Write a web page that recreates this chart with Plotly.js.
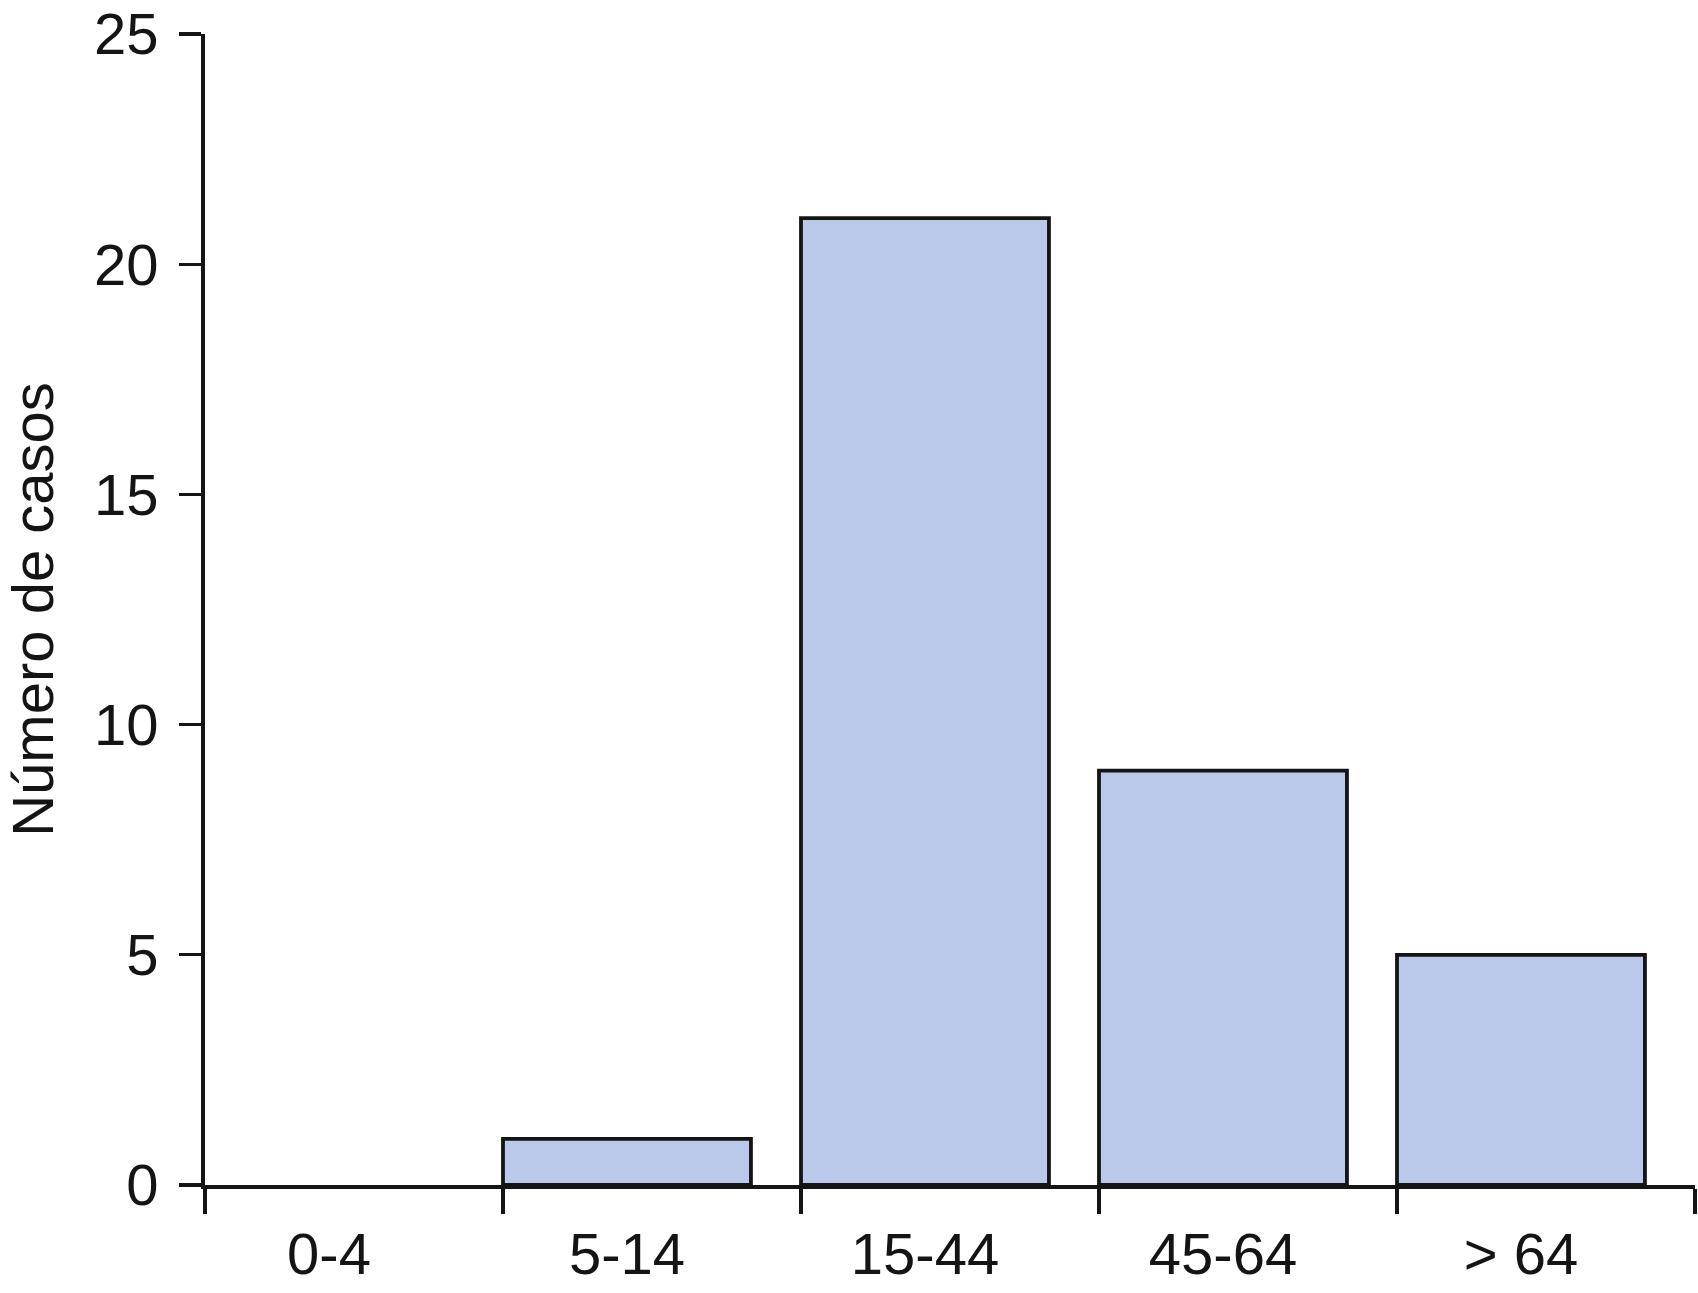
<!DOCTYPE html>
<html><head><meta charset="utf-8">
<script src="https://cdn.plot.ly/plotly-3.0.1.min.js"></script>
<style>html,body{margin:0;padding:0;background:#fff}</style>
</head><body><div id="chart" style="width:1698px;height:1293px"></div>
<script>
const categories = ["0-4", "5-14", "15-44", "45-64", "> 64"];
const cases = [0, 1, 21, 9, 5];
const yTicks = [0, 5, 10, 15, 20, 25];

const barWidth = 0.832;
const binStart = categories.map((c, i) => i);
const boundaries = categories.map((c, i) => i).concat([categories.length]);
const labelPos = binStart.map(i => i + barWidth / 2);

const ink = '#141414';
const font = {family: '"Liberation Sans", Arial, sans-serif', size: 58, color: ink};

const trace = {
  type: 'bar',
  x: binStart,
  y: cases,
  width: barWidth,
  offset: 0,
  marker: {color: '#BAC9E9', line: {color: ink, width: cases.map(v => v > 0 ? 3.8 : 0)}},
  hoverinfo: 'skip',
  showlegend: false
};

const layout = {
  width: 1698, height: 1293,
  margin: {l: 205, r: 3, t: 34, b: 108},
  paper_bgcolor: '#fff', plot_bgcolor: '#fff',
  font: font,
  showlegend: false,
  xaxis: {
    range: [0, categories.length],
    tickmode: 'array', tickvals: labelPos, ticktext: categories,
    ticks: '', showgrid: false, zeroline: false,
    showline: true, linecolor: ink, linewidth: 4,
    tickfont: font, ticklabelstandoff: 15,
    minor: {tickmode: 'array', tickvals: boundaries, ticks: 'outside', ticklen: 25, tickwidth: 3.4, tickcolor: ink, showgrid: false}
  },
  yaxis: {
    range: [0, 25],
    tickmode: 'array', tickvals: yTicks, ticktext: yTicks.map(String),
    ticks: 'outside', ticklen: 22, tickwidth: 3.4, tickcolor: ink,
    showgrid: false, zeroline: false,
    showline: true, linecolor: ink, linewidth: 4,
    tickfont: font, ticklabelstandoff: 9,
    title: {text: 'Número de casos', font: font, standoff: 44},
    automargin: false
  }
};

Plotly.newPlot('chart', [trace], layout, {displayModeBar: false, staticPlot: true});
</script>
</body></html>
